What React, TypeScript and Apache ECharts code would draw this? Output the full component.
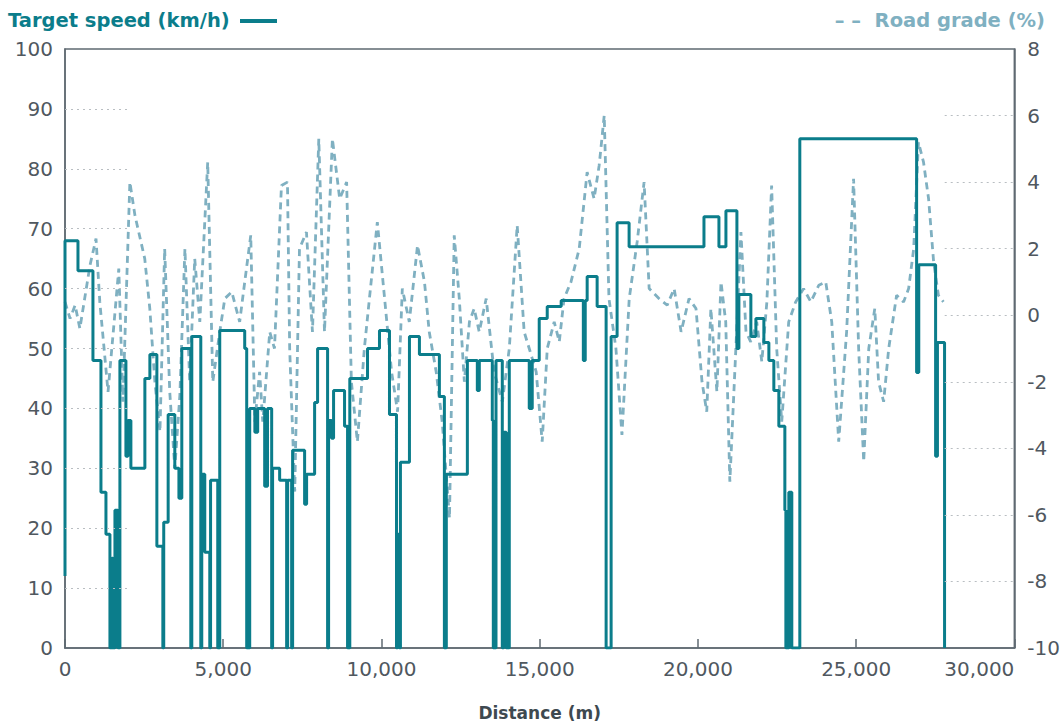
import React, { useEffect, useRef } from "react";
import * as echarts from "echarts";

// Target speed profile: breakpoints (distance m, speed km/h), step function
const speedDistance = [
  0, 0, 410, 883, 1136, 1294, 1420, 1483, 1514, 1578, 1672, 1735, 1925, 1988, 2082, 2524, 2682, 2903, 3092, 3120,
  3260, 3470, 3600, 3691, 3975, 4007, 4291, 4322, 4417, 4575, 4600, 4827, 4890, 5679, 5742, 5837, 6000, 6089, 6310, 6400,
  6531, 6560, 6783, 7004, 7036, 7162, 7193, 7572, 7635, 7888, 7982, 8298, 8330, 8424, 8487, 8834, 8929, 9000, 9560, 9938,
  10254, 10475, 10506, 10569, 10600, 10885, 11200, 11831, 11989, 12050, 12715, 13030, 13093, 13503, 13535, 13620, 13819, 13860, 13945, 14040,
  14671, 14765, 14986, 15239, 15680, 16380, 16440, 16501, 16816, 17100, 17258, 17447, 17826, 20192, 20665, 20886, 21233, 21296, 21674, 21833,
  22085, 22243, 22400, 22558, 22748, 22780, 22874, 22968, 23221, 26912, 26980, 27512, 27570, 27795,
];
const speedValues = [
  12, 68, 63, 48, 26, 19, 0, 15, 0, 23, 0, 48, 32, 38, 30, 45, 49, 17, 0, 21,
  39, 30, 25, 50, 0, 52, 0, 29, 16, 0, 28, 0, 53, 50, 0, 40, 36, 40, 27, 40,
  0, 30, 28, 0, 28, 0, 33, 24, 29, 41, 50, 0, 38, 35, 43, 37, 0, 45, 50, 53,
  39, 0, 19, 0, 31, 52, 49, 42, 0, 29, 48, 43, 48, 38, 0, 48, 0, 36, 0, 48,
  40, 48, 55, 57, 58, 48, 58, 62, 57, 0, 52, 71, 67, 72, 67, 73, 50, 59, 52, 55,
  51, 48, 43, 37, 23, 0, 26, 0, 85, 46, 64, 32, 51, 0,
];

// Road grade profile (distance m, grade %)
const gradeDistance = [
  0, 160, 320, 470, 790, 980, 1100, 1360, 1700, 1830, 2050, 2210, 2520, 2680, 2840, 3000, 3150, 3310, 3470, 3630,
  3790, 3940, 4100, 4260, 4510, 4670, 4890, 5050, 5270, 5520, 5680, 5870, 6000, 6150, 6250, 6470, 6620, 6840, 7030, 7100,
  7260, 7410, 7630, 7820, 8020, 8200, 8450, 8680, 8900, 9050, 9240, 9460, 9620, 9870, 10100, 10320, 10510, 10660, 10880, 11140,
  11360, 11510, 11730, 11920, 12150, 12300, 12460, 12620, 12780, 12930, 13090, 13310, 13560, 13820, 14040, 14290, 14510, 14670, 14890, 15080,
  15240, 15460, 15620, 15770, 15990, 16250, 16500, 16720, 16880, 17040, 17190, 17410, 17600, 17830, 18080, 18300, 18460, 18770, 19030, 19250,
  19470, 19720, 19940, 20130, 20280, 20410, 20600, 20730, 20880, 21010, 21200, 21360, 21520, 21670, 21860, 22020, 22180, 22330, 22490, 22650,
  22870, 23090, 23340, 23570, 23820, 24040, 24230, 24450, 24700, 24920, 25080, 25240, 25400, 25590, 25710, 25870, 26030, 26280, 26500, 26660,
  26820, 26970, 27130, 27290, 27450, 27600, 27760,
];
const gradeValues = [
  0.4, -0.1, 0.3, -0.4, 1.5, 2.3, 0.4, -2.3, 1.4, -2.6, 4.0, 3.0, 1.7, 0.2, -2.0, -3.5, 2.0, -2.3, -4.6, -2.4,
  2.0, -2.0, 1.7, -0.2, 4.6, -2.0, -0.5, 0.5, 0.7, -0.2, 1.0, 2.4, -3.2, -1.7, -3.2, -0.5, -1.0, 3.9, 4.0, -1.0,
  -5.3, 2.0, 2.5, -0.5, 5.3, -0.5, 5.3, 3.5, 4.0, -2.0, -3.8, -1.0, 0.5, 2.8, 0.5, -1.7, -2.9, 0.8, -0.2, 2.1,
  1.0, -0.5, -1.7, -3.2, -6.1, 2.4, 0.5, -2.0, -0.2, 0.2, -0.5, 0.5, -1.7, -2.6, -1.0, 2.7, -0.5, -1.0, -1.7, -3.8,
  -1.0, -0.2, -0.8, 0.5, 1.0, 2.0, 4.3, 3.5, 4.5, 6.0, 0.5, -1.0, -3.6, 0.5, 2.2, 4.0, 0.8, 0.5, 0.3, 0.8,
  -0.5, 0.5, 0.2, -2.0, -2.9, 0.2, -2.3, 1.0, -0.2, -5.0, -1.0, 2.5, -0.5, -0.8, -0.2, -1.4, 0.4, 3.9, -1.0, -3.2,
  -0.2, 0.4, 0.8, 0.4, 0.9, 1.0, -0.2, -3.8, -0.5, 4.1, -1.0, -4.4, -1.0, 0.2, -2.0, -2.6, -1.0, 0.6, 0.4, 0.8,
  2.0, 5.2, 4.6, 3.5, 1.6, 0.6, 0.4,
];

// Partial dotted guide lines
const speedGuideLevels = [10, 20, 30, 40, 50, 60, 70, 80, 90];
const speedGuideRange = [0, 2000];
const gradeGuideLevels = [-8, -6, -4, -2, 0, 2, 4, 6];
const gradeGuideRange = [27800, 30000];

const TEAL = "#0b7d8b";
const LIGHT = "#7fb0c1";
const AXIS_GREY = "#5f6a72";
const LABEL_GREY = "#50585f";
const FONT = "'DejaVu Sans', 'Noto Sans', sans-serif";

export default function App() {
  const ref = useRef<HTMLDivElement>(null);

  useEffect(() => {
    if (!ref.current) return;
    const chart = echarts.init(ref.current, undefined, { renderer: "svg" });

    const speedData = speedDistance.map((d, i) => [d, speedValues[i]]);
    const gradeData = gradeDistance.map((d, i) => [d, gradeValues[i]]);

    const dotted = { type: [2, 4] as any, color: "#b9bec2", width: 1 };

    chart.setOption({
      animation: false,
      grid: {
        left: 65,
        right: 47,
        top: 49,
        bottom: 78,
        show: true,
        borderColor: AXIS_GREY,
        borderWidth: 1.5,
        backgroundColor: "transparent",
      },
      graphic: [
        {
          type: "text",
          left: 8,
          top: 10,
          style: {
            text: "Target speed (km/h)",
            fill: TEAL,
            font: `bold 19.5px ${FONT}`,
          },
        },
        {
          type: "line",
          shape: { x1: 240, y1: 21, x2: 277, y2: 21 },
          style: { stroke: TEAL, lineWidth: 4 },
        },
        {
          type: "text",
          right: 18,
          top: 10,
          style: {
            text: "– –  Road grade (%)",
            fill: LIGHT,
            font: `bold 19.5px ${FONT}`,
          },
        },
      ],
      xAxis: {
        type: "value",
        min: 0,
        max: 30000,
        interval: 5000,
        name: "Distance (m)",
        nameLocation: "middle",
        nameGap: 56,
        nameTextStyle: { color: "#3e4950", fontWeight: "bold", fontSize: 17, fontFamily: FONT },
        axisLine: { show: true, lineStyle: { color: AXIS_GREY, width: 1.5 } },
        axisTick: { show: true, inside: true, length: 9, lineStyle: { color: AXIS_GREY, width: 1.5 } },
        axisLabel: {
          color: LABEL_GREY,
          fontSize: 20,
          fontFamily: FONT,
          margin: 11,
          alignMaxLabel: "right",
          formatter: (v: number) => v.toLocaleString("en-US"),
        },
        splitLine: { show: false },
      },
      yAxis: [
        {
          type: "value",
          min: 0,
          max: 100,
          interval: 10,
          position: "left",
          axisLine: { show: true, lineStyle: { color: AXIS_GREY, width: 1.5 } },
          axisTick: { show: false },
          axisLabel: { color: LABEL_GREY, fontSize: 20, fontFamily: FONT, margin: 12 },
          splitLine: { show: false },
        },
        {
          type: "value",
          min: -10,
          max: 8,
          interval: 2,
          position: "right",
          axisLine: { show: true, lineStyle: { color: AXIS_GREY, width: 1.5 } },
          axisTick: { show: false },
          axisLabel: { color: LABEL_GREY, fontSize: 20, fontFamily: FONT, margin: 13 },
          splitLine: { show: false },
        },
      ],
      series: [
        {
          name: "Road grade (%)",
          type: "line",
          yAxisIndex: 1,
          data: gradeData,
          showSymbol: false,
          symbol: "none",
          lineStyle: { color: LIGHT, width: 2.8, type: [7, 5] as any },
          z: 2,
          markLine: {
            silent: true,
            symbol: "none",
            label: { show: false },
            lineStyle: dotted,
            data: gradeGuideLevels.map((g) => [
              { coord: [gradeGuideRange[0], g] },
              { coord: [gradeGuideRange[1], g] },
            ]),
          },
        },
        {
          name: "Target speed (km/h)",
          type: "line",
          yAxisIndex: 0,
          data: speedData,
          step: "end",
          showSymbol: false,
          symbol: "none",
          lineStyle: { color: TEAL, width: 3 },
          z: 3,
          markLine: {
            silent: true,
            symbol: "none",
            label: { show: false },
            lineStyle: dotted,
            data: speedGuideLevels.map((s) => [
              { coord: [speedGuideRange[0], s] },
              { coord: [speedGuideRange[1], s] },
            ]),
          },
        },
      ],
    });

    return () => chart.dispose();
  }, []);

  return (
    <div
      ref={ref}
      style={{ position: "fixed", left: 0, top: 0, width: 1063, height: 726, background: "#fff" }}
    />
  );
}
